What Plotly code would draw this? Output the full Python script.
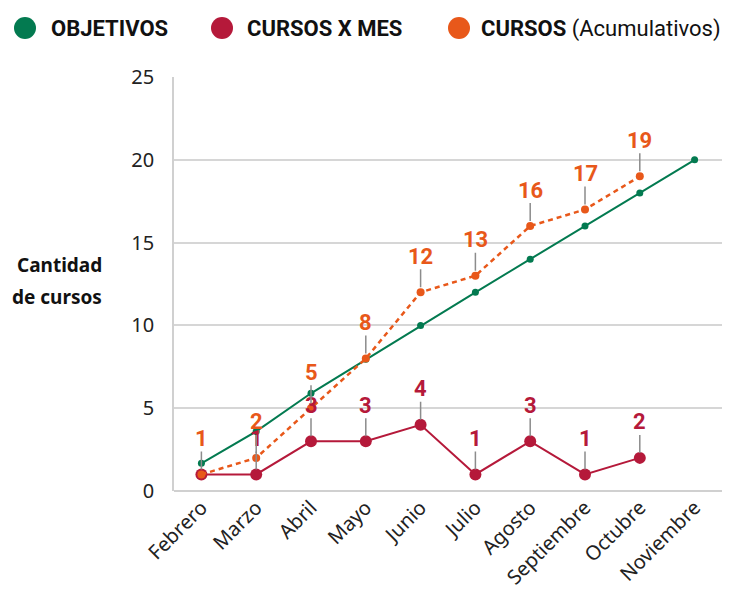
import plotly.graph_objects as go

# datos
meses = ["Febrero", "Marzo", "Abril", "Mayo", "Junio", "Julio",
         "Agosto", "Septiembre", "Octubre", "Noviembre"]
objetivos = [1.67, 3.6, 5.9, 7.95, 10, 12, 14, 16, 18, 20]
cursos_mes = [1, 1, 3, 3, 4, 1, 3, 1, 2]
cursos_acum = [1, 2, 5, 8, 12, 13, 16, 17, 19]

VERDE = "#037a50"
ROJO = "#b5193a"
NARANJA = "#e8581a"
FUENTE = "Roboto, Noto Sans, sans-serif"
TICKS = "Noto Sans, Open Sans, sans-serif"

# la pagina deja 8px de margen en el body
OFF = 8
L, T, R, B = 174, 77, 722, 491   # area del grafico en la ventana
W, H = 737 - OFF, 591 - OFF


def px(x):
    return (x - L) / (R - L)


def py(y):
    return (B - y) / (B - T)


fig = go.Figure()

fig.add_trace(go.Scatter(
    x=meses, y=objetivos, mode="lines+markers",
    line=dict(color=VERDE, width=2),
    marker=dict(color=VERDE, size=7),
    showlegend=False, hoverinfo="skip"))

fig.add_trace(go.Scatter(
    x=meses[:len(cursos_mes)], y=cursos_mes, mode="lines+markers",
    line=dict(color=ROJO, width=2),
    marker=dict(color=ROJO, size=12),
    showlegend=False, hoverinfo="skip"))

fig.add_trace(go.Scatter(
    x=meses[:len(cursos_acum)], y=cursos_acum, mode="lines+markers",
    line=dict(color=NARANJA, width=2.5, dash="5px,4px"),
    marker=dict(color=NARANJA, size=8),
    showlegend=False, hoverinfo="skip"))


# etiquetas con linea guia
def etiqueta(x, y, color):
    fig.add_annotation(
        x=x, y=y, text=str(y), showarrow=True,
        arrowhead=0, arrowwidth=1.5, arrowcolor="#8c8c8c",
        ax=0, ay=-36, standoff=5, borderpad=0,
        font=dict(family=FUENTE, size=22, color=color, weight="bold"))


for i, v in enumerate(cursos_mes):
    if v != cursos_acum[i]:
        etiqueta(meses[i], v, ROJO)
for i, v in enumerate(cursos_acum):
    etiqueta(meses[i], v, NARANJA)

# leyenda
leyenda = [
    (25, VERDE, "<b>OBJETIVOS</b>", 49),
    (222, ROJO, "<b>CURSOS X MES</b>", 245),
    (459, NARANJA, "<b>CURSOS</b> (Acumulativos)", 479),
]
for cx, col, txt, tx in leyenda:
    fig.add_shape(type="circle", xref="paper", yref="paper",
                  x0=px(cx - 11), x1=px(cx + 11),
                  y0=py(39), y1=py(17),
                  fillcolor=col, line=dict(width=0))
    fig.add_annotation(xref="paper", yref="paper",
                       x=px(tx), y=py(29),
                       xanchor="left", yanchor="middle", showarrow=False,
                       text=txt, font=dict(family=FUENTE, size=22, color="#111"))

for txt, yy in [("<b>Cantidad</b>", 265), ("<b>de cursos</b>", 297)]:
    fig.add_annotation(xref="paper", yref="paper", x=px(104), y=py(yy),
                       xanchor="right", yanchor="middle", showarrow=False,
                       text=txt, font=dict(family=TICKS, size=19, color="#111"))

fig.update_xaxes(
    type="category", range=[-0.5, 9.5], tickangle=-45, automargin=False,
    showgrid=False, showline=False, zeroline=False,
    tickfont=dict(family=TICKS, size=20, color="#222"))
fig.update_yaxes(
    range=[0, 25], tickvals=[0, 5, 10, 15, 20, 25], automargin=False,
    showgrid=True, gridcolor="#d6d6d6", gridwidth=1.5,
    showline=True, linecolor="#d0d0d0", linewidth=1.5,
    zeroline=True, zerolinecolor="#d0d0d0", zerolinewidth=1.5,
    ticklabelstandoff=14,
    tickfont=dict(family=TICKS, size=20, color="#222"))

fig.update_layout(
    width=W, height=H,
    margin=dict(l=L - OFF, r=737 - R, t=T - OFF, b=591 - B),
    plot_bgcolor="white", paper_bgcolor="white")

fig.write_html("out.html")
